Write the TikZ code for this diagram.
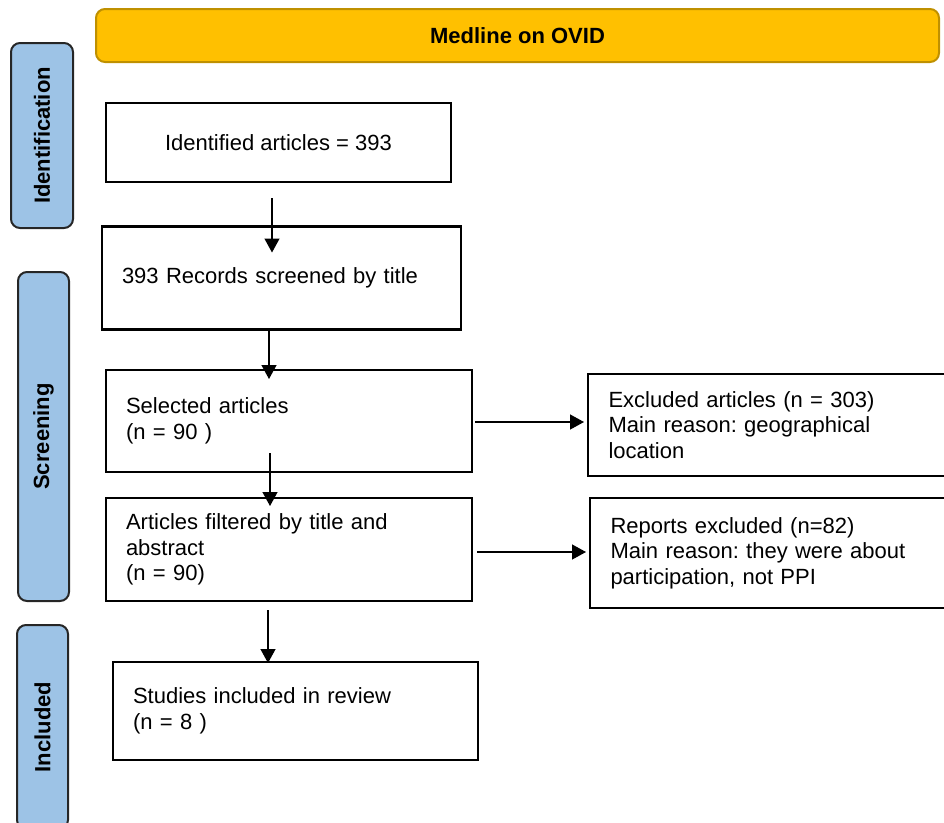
\documentclass[tikz,border=0pt]{standalone}
\usepackage{fontspec}
\setmainfont{Liberation Sans}
\usetikzlibrary{arrows.meta,calc}
\definecolor{banner}{HTML}{FFC000}
\definecolor{bannerline}{HTML}{BF9000}
\definecolor{sideblue}{HTML}{9DC3E6}
\frenchspacing
\begin{document}
\begin{tikzpicture}[x=1pt,y=-1pt,
  every node/.style={font=\fontsize{22}{25.5}\selectfont, inner sep=0pt, outer sep=0pt},
  flowbox/.style={draw=black, line width=2.3pt, fill=white},
  leftbox/.style={flowbox, align=left},
  sidebox/.style={draw=black!85, line width=2pt, fill=sideblue, rounded corners=9pt},
  sidelabel/.style={font=\fontsize{22}{25.5}\selectfont\bfseries, rotate=90},
  arr/.style={line width=1.3pt, -{Triangle[length=14pt,width=15pt]}}]
\useasboundingbox (0,0) rectangle (944,822);
\clip (0,0) rectangle (944,822);
% banner
\node[draw=bannerline, line width=2pt, fill=banner, rounded corners=9pt,
      minimum width=843pt, minimum height=53pt] (banner) at (517.5,35.5) {};
\node[font=\fontsize{22}{25.5}\selectfont\bfseries] (bannertxt) at (banner.center) {Medline on OVID};
% side boxes
\node[sidebox, minimum width=62pt, minimum height=185pt] (idside) at (42,135.5) {};
\node[sidelabel] (idlab) at (idside.center) {Identification};
\node[sidebox, minimum width=51pt, minimum height=329pt] (scrside) at (43.5,436.5) {};
\node[sidelabel] (scrlab) at (scrside.center) {Screening};
\node[sidebox, minimum width=51pt, minimum height=204pt] (incside) at (42.5,727) {};
\node[sidelabel] (inclab) at (incside.center) {Included};
% flow boxes
\node[flowbox, minimum width=345pt, minimum height=79pt] (ident) at (278.5,142.5) {Identified articles = 393};
\node[leftbox, minimum height=103pt, text width=319pt, inner xsep=20pt] (rec) at (281.5,278) {393 Records screened by title};
\node[leftbox, minimum height=102pt, text width=326pt, inner xsep=20pt] (sel) at (289,421) {Selected articles\\(n = 90 )};
\node[leftbox, minimum height=103pt, text width=326pt, inner xsep=20pt] (filt) at (289,549.5) {Articles filtered by title and\\abstract\\(n = 90)};
\node[leftbox, minimum height=98pt, text width=325pt, inner xsep=20pt] (stud) at (295.5,711) {Studies included in review\\(n = 8 )};
\node[leftbox, minimum height=102pt, text width=371pt, inner xsep=20.5pt, anchor=west] (excl) at (588,425) {Excluded articles (n = 303)\\Main reason: geographical\\location};
\node[leftbox, minimum height=110pt, text width=369pt, inner xsep=20.5pt, anchor=west] (rep) at (590,553) {Reports excluded (n=82)\\Main reason: they were about\\participation, not PPI};
% connectors
\draw[arr] ($(ident.south)+(-6.5,16)$) -- ($(rec.north)+(-9.5,26)$);
\draw[arr] ($(rec.south)+(-12.5,0)$) -- ($(sel.north)+(-20,9)$);
\draw[arr] ($(sel.south)+(-19,-19)$) -- ($(filt.north)+(-19,8)$);
\draw[arr] ($(filt.south)+(-21,9)$) -- ($(stud.north)+(-27.5,1)$);
\draw[arr] ($(sel.east)+(3,1)$) -- ($(excl.west)+(-4,-3)$);
\draw[arr] ($(filt.east)+(5,2.5)$) -- ($(rep.west)+(-4,-1)$);
\end{tikzpicture}
\end{document}
